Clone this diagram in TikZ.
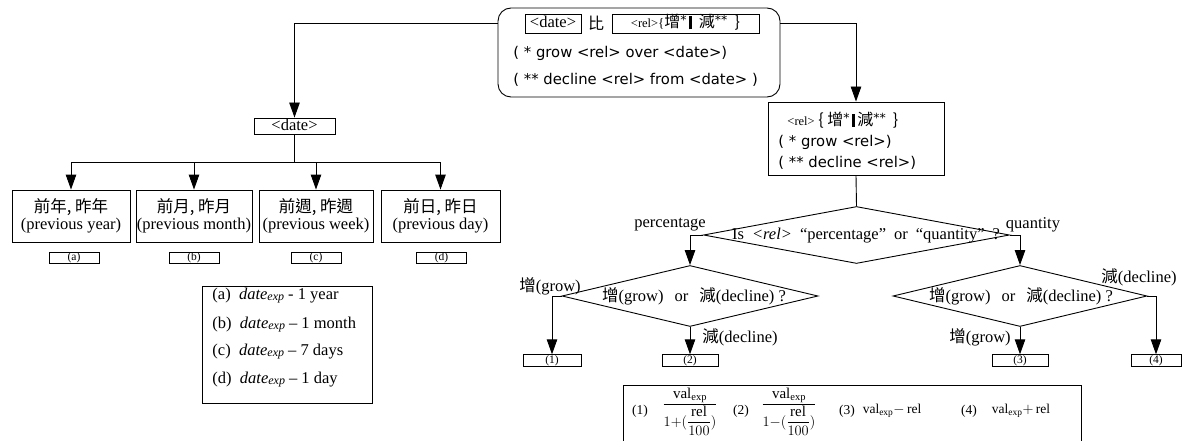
\documentclass[tikz,border=0pt]{standalone}
\usepackage{fontspec}
\setmainfont{Liberation Serif}
\newfontfamily\cjk{Noto Sans CJK TC}
\newfontfamily\sans{DejaVu Sans}
\usetikzlibrary{arrows.meta,shapes.geometric}
\newcommand\fsA{\fontsize{16.5}{17}\selectfont}
\newcommand\fsR{\fontsize{12.5}{12}\selectfont}
\newcommand\fsC{\fontsize{16}{17}\selectfont}
\newcommand\fsS{\fontsize{14.8}{17}\selectfont}
\newcommand\fsD{\fontsize{11.5}{12}\selectfont}
\newcommand\fsE{\fontsize{16.5}{17}\selectfont}
\newcommand\fsF{\fontsize{13.5}{15}\selectfont}
\newcommand\fsG{\fontsize{15}{17}\selectfont}
\newcommand\vbar{\rule[-1.5pt]{2.4pt}{13pt}}
\newcommand\dexp{\textit{date}\raisebox{-1pt}{\fontsize{12}{12}\selectfont\textit{exp}}}
\newcommand\astr[1]{\raisebox{3pt}{\sans\fontsize{12.5}{12}\selectfont #1}}
\begin{document}
\begin{tikzpicture}[x=1pt,y=-1pt,line width=0.9pt,
  box/.style={draw, inner sep=0pt},
  arr/.style={-{Triangle[width=10.5pt,length=15pt]}},
  dia/.style={diamond, draw, inner sep=0pt},
  opt/.style={box, minimum height=52pt, align=center, font=\fsA},
  tag/.style={draw, inner sep=0pt, minimum height=11.5pt, text height=8pt, text depth=2.5pt, font=\fsD},
  dbox/.style={box, text height=11pt, text depth=2pt, font=\fsA},
  lbl/.style={inner sep=0pt, font=\fsA},
  ln/.style={anchor=west, inner sep=0pt},
  fm/.style={inner sep=0pt, font=\fsF},
  fr/.style={inner sep=0pt, font=\fsG}]
\useasboundingbox (0,0) rectangle (1183,441);
\clip (0,0) rectangle (1183,441);
% top box
\node[box, rounded corners=13pt, minimum width=282pt, minimum height=89pt] (top) at (639,52.5) {};
\node[dbox, minimum width=56pt, minimum height=19pt] (td) at (553,23.5) {<date>};
\node[inner sep=0pt, font=\cjk\fsC] (bi) at (596,23.5) {比};
\node[box, minimum width=147pt, minimum height=19pt, text height=12pt, text depth=3pt] (tr) at (685.5,23.5) {{\fsR <rel>}{\fontsize{13}{14}\selectfont\{}{\cjk\fsC 增\astr{*}\,\vbar\ \ 減\astr{**}\ \ \}}};
\node[ln, font=\sans\fsS] (tl1) at (513,53) {( * grow <rel> over <date>)};
\node[ln, font=\sans\fsS] (tl2) at (513,80) {( ** decline <rel> from <date> )};
% right box
\node[box, minimum width=176pt, minimum height=73pt] (rb) at (856,138.5) {};
\node[ln] (rl1) at (787,120) {{\fsR <rel>}{\cjk\fsC\ \{ 增\astr{*}\,\vbar\,減\astr{**}\ \ \}}};
\node[ln, font=\sans\fsS] (rl2) at (778,142) {( * grow <rel>)};
\node[ln, font=\sans\fsS] (rl3) at (778,163) {( ** decline <rel>)};
% left part
\node[dbox, minimum width=81pt, minimum height=16pt] (ld) at (294.5,126) {<date>};
\coordinate (br) at (294.5,162);
\node[opt, minimum width=118pt] (o1) at (71,216) {{\cjk 前年, 昨年}\\(previous year)};
\node[opt, minimum width=116pt] (o2) at (194,216) {{\cjk 前月, 昨月}\\(previous month)};
\node[opt, minimum width=114pt] (o3) at (316,216) {{\cjk 前週, 昨週}\\(previous week)};
\node[opt, minimum width=119pt] (o4) at (440.5,216) {{\cjk 前日, 昨日}\\(previous day)};
\node[tag, minimum width=50pt] (ta) at (74,258) {(a)};
\node[tag, minimum width=50pt] (tb) at (194,258) {(b)};
\node[tag, minimum width=50pt] (tc) at (316,258) {(c)};
\node[tag, minimum width=50pt] (tdd) at (441.5,258) {(d)};
\node[box, minimum width=170pt, minimum height=117pt] (bl) at (287,344.5) {};
\node[ln, font=\fsE] (la1) at (212,296) {(a)\ \ \dexp\ - 1 year};
\node[ln, font=\fsE] (la2) at (212,325) {(b)\ \ \dexp\ -- 1 month};
\node[ln, font=\fsE] (la3) at (212,352) {(c)\ \ \dexp\ -- 7 days};
\node[ln, font=\fsE] (la4) at (212,380) {(d)\ \ \dexp\ -- 1 day};
% decisions
\node[dia, minimum width=306pt, minimum height=57pt] (q1) at (856.5,235) {};
\node[lbl] (q1t) at (866,236) {Is\hspace{8pt}\textit{<rel>}\hspace{8pt}“percentage”\hspace{8pt}or\hspace{8pt}“quantity”\hspace{8pt}?};
\node[dia, minimum width=256pt, minimum height=61pt] (q2) at (690,296) {};
\node[lbl] (q2t) at (694,296) {{\cjk 增}(grow)\hspace{11pt}or\hspace{11pt}{\cjk 減}(decline) ?};
\node[dia, minimum width=254pt, minimum height=61pt] (q3) at (1020,296) {};
\node[lbl] (q3t) at (1021,296) {{\cjk 增}(grow)\hspace{11pt}or\hspace{11pt}{\cjk 減}(decline) ?};
\node[lbl] (lp) at (670,225) {percentage};
\node[lbl] (lq) at (1033,225) {quantity};
\node[lbl] (lg1) at (550,286) {{\cjk 增}(grow)};
\node[lbl] (ld1) at (740,337) {{\cjk 減}(decline)};
\node[lbl] (ld2) at (1139,277) {{\cjk 減}(decline)};
\node[lbl] (lg2) at (980,337) {{\cjk 增}(grow)};
\node[tag, minimum width=58pt] (r1) at (552,360.5) {(1)};
\node[tag, minimum width=56pt] (r2) at (690,360.5) {(2)};
\node[tag, minimum width=56pt] (r3) at (1020,360.5) {(3)};
\node[tag, minimum width=50pt] (r4) at (1156,360.5) {(4)};
% formulas
\node[box, minimum width=458pt, minimum height=70pt] (fb) at (852,420) {};
\node[fm] (f1l) at (640,411) {(1)};
\node[fr] (f1) at (690,412) {$\displaystyle\frac{\mathrm{val}_{\mathrm{exp}}}{1{+}(\displaystyle\frac{\mathrm{rel}}{100})}$};
\node[fm] (f2l) at (741,411) {(2)};
\node[fr] (f2) at (789,412) {$\displaystyle\frac{\mathrm{val}_{\mathrm{exp}}}{1{-}(\displaystyle\frac{\mathrm{rel}}{100})}$};
\node[fm] (f3l) at (847,411) {(3)};
\node[fm] (f3) at (892,411) {$\mathrm{val}_{\mathrm{exp}}{-}\,\mathrm{rel}$};
\node[fm] (f4l) at (969,411) {(4)};
\node[fm] (f4) at (1021,411) {$\mathrm{val}_{\mathrm{exp}}{+}\,\mathrm{rel}$};
% connectors
\draw[arr] (td -| top.west) -| (ld.north);
\draw[arr] (td -| top.east) -| (rb.north);
\draw (ld.south) -- (br);
\draw[arr] (br) -| (o1.north);
\draw[arr] (br) -| (o2.north);
\draw[arr] (br) -| (o3.north);
\draw[arr] (br) -| (o4.north);
\draw (rb.south) -- (q1.north);
\draw[arr] (q1.west) -| (q2.north);
\draw[arr] (q1.east) -| (q3.north);
\draw[arr] (q2.west) -| (r1.north);
\draw[arr] (q2.south) -- (r2.north);
\draw[arr] (q3.south) -- (r3.north);
\draw[arr] (q3.east) -| (r4.north);
\end{tikzpicture}
\end{document}
